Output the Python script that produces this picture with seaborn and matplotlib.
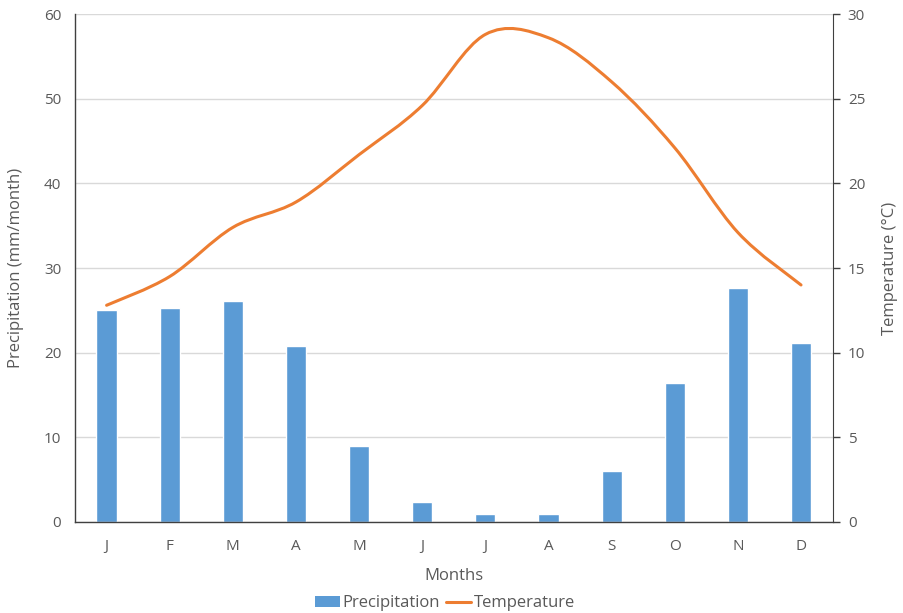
import matplotlib.pyplot as plt
import seaborn as sns
import pandas as pd
from matplotlib.path import Path
from matplotlib.patches import PathPatch, Patch
from matplotlib.lines import Line2D

months = ['J', 'F', 'M', 'A', 'M', 'J', 'J', 'A', 'S', 'O', 'N', 'D']
precipitation = [25.0, 25.3, 26.1, 20.8, 9.0, 2.4, 0.9, 1.0, 6.0, 16.4, 27.6, 21.1]
temperature = [12.8, 14.5, 17.4, 18.9, 21.7, 24.6, 28.8, 28.6, 26.0, 22.1, 17.1, 14.0]

BAR = '#5B9BD5'
LINE = '#ED7D31'
TXT = '#595959'

sns.set_style('white')
plt.rcParams['font.family'] = ['Open Sans', 'DejaVu Sans']

df = pd.DataFrame({'idx': range(len(months)), 'Precipitation': precipitation})

fig = plt.figure(figsize=(9.04, 6.13), dpi=100)
ax = fig.add_axes([0.083, 0.1485, 0.838, 0.8285])
sns.barplot(data=df, x='idx', y='Precipitation', color=BAR, width=0.32,
            saturation=1, ax=ax, zorder=2)
ax.set_xlim(-0.5, 11.5)
ax.set_ylim(0, 60)
ax.set_yticks(range(0, 61, 10))
ax.set_xticks(range(12))
ax.set_xticklabels(months)
ax.yaxis.grid(True, color='#D9D9D9', linewidth=1)
ax.set_axisbelow(True)
ax.tick_params(axis='x', length=0, labelsize=11, labelcolor=TXT, pad=12)
ax.tick_params(axis='y', length=0, labelsize=11, labelcolor=TXT, pad=10)
ax.set_xlabel('Months', fontsize=12, color=TXT, labelpad=10)
ax.set_ylabel('Precipitation (mm/month)', fontsize=12, color=TXT, labelpad=14)
for s in ['top', 'right']:
    ax.spines[s].set_visible(False)
for s in ['left', 'bottom']:
    ax.spines[s].set_color('#404040')
    ax.spines[s].set_linewidth(1)

# temperature on a second axis, smoothed like a spreadsheet line
ax2 = ax.twinx()
ax2.set_ylim(0, 30)
ax2.set_yticks(range(0, 31, 5))
pts = list(zip(range(len(temperature)), temperature))
verts = [pts[0]]
codes = [Path.MOVETO]
n = len(pts)
for i in range(n - 1):
    p0 = pts[max(i - 1, 0)]
    p1 = pts[i]
    p2 = pts[i + 1]
    p3 = pts[min(i + 2, n - 1)]
    c1 = (p1[0] + (p2[0] - p0[0]) / 6, p1[1] + (p2[1] - p0[1]) / 6)
    c2 = (p2[0] - (p3[0] - p1[0]) / 6, p2[1] - (p3[1] - p1[1]) / 6)
    verts += [c1, c2, p2]
    codes += [Path.CURVE4] * 3
ax2.add_patch(PathPatch(Path(verts, codes), facecolor='none', edgecolor=LINE,
                        linewidth=2.2, capstyle='round', zorder=3))
ax2.tick_params(axis='y', length=5, width=1, color='#404040', labelsize=11,
                labelcolor=TXT, pad=6)
ax2.set_ylabel('Temperature (°C)', fontsize=12, color=TXT, labelpad=12)
for s in ['top', 'left', 'bottom']:
    ax2.spines[s].set_visible(False)
ax2.spines['right'].set_color('#404040')

handles = [Patch(facecolor=BAR, edgecolor='none', label='Precipitation'),
           Line2D([0], [0], color=LINE, linewidth=2.2, label='Temperature')]
fig.legend(handles=handles, loc='lower center', ncol=2, frameon=False,
           fontsize=12, labelcolor=TXT, bbox_to_anchor=(0.492, -0.022),
           handlelength=1.5, handletextpad=0.15, columnspacing=0.4)

fig.savefig('out.png', dpi=100, facecolor='white')
